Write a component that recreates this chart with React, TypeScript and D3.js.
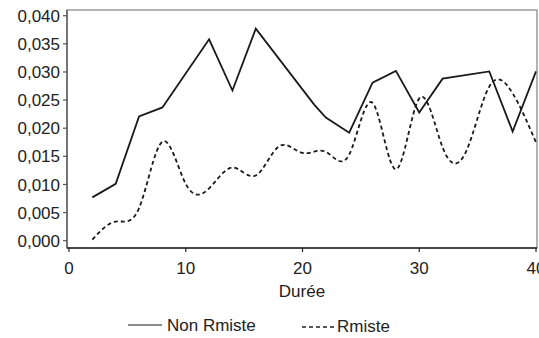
import React from "react";
import { scaleLinear, line, curveNatural, curveLinear } from "d3";

// Non Rmiste (solid)
const dureeNon = [2, 4, 6, 8, 12, 14, 16, 21, 22, 24, 26, 28, 30, 32, 36, 38, 40];
const nonRmiste = [0.0077, 0.0101, 0.0221, 0.0237, 0.0358, 0.0267, 0.0377, 0.0242, 0.0219, 0.0192, 0.0281, 0.0302, 0.0228, 0.0288, 0.0301, 0.0194, 0.0301];

// Rmiste (dashed, smoothed)
const dureeR = [2, 4, 6, 8, 10, 12, 14, 16, 18, 20, 22, 24, 26, 28, 30, 32, 34, 36, 38, 40];
const rmiste = [0.0002, 0.0034, 0.0058, 0.0176, 0.0101, 0.0093, 0.013, 0.0116, 0.0168, 0.0156, 0.0158, 0.0153, 0.0245, 0.0127, 0.0253, 0.0166, 0.0158, 0.0274, 0.0262, 0.0175];

const xTicks = [0, 10, 20, 30, 40];
const yTicks = [0, 0.005, 0.01, 0.015, 0.02, 0.025, 0.03, 0.035, 0.04];

const W = 539;
const H = 338;
const left = 67;
const top = 10;
const right = 537;
const bottom = 248;
const font = "'Liberation Sans', Arial, sans-serif";
const ink = "#222";

export default function App() {
  const x = scaleLinear().domain([0, 40]).range([69, 536]);
  const y = scaleLinear().domain([0, 0.04]).range([240.7, 15.7]);

  const solid = line<number>()
    .x((d, i) => x(dureeNon[i]))
    .y((d) => y(d))
    .curve(curveLinear);

  const dashed = line<number>()
    .x((d, i) => x(dureeR[i]))
    .y((d) => y(d))
    .curve(curveNatural);

  const fmt = (v: number) => v.toFixed(3).replace(".", ",");

  return (
    <svg width={W} height={H} style={{ position: "absolute", left: 0, top: 0, background: "#fff" }}>
      {/* frame */}
      <rect x={left} y={top} width={right - left} height={bottom - top} fill="none" stroke="#8a8a8a" strokeWidth={1.3} />
      <line x1={left} x2={left} y1={top} y2={bottom} stroke="#555" strokeWidth={1.3} />
      <line x1={left} x2={right} y1={bottom} y2={bottom} stroke="#222" strokeWidth={1.5} />

      {/* y axis */}
      {yTicks.map((t) => (
        <g key={t}>
          <line x1={63} x2={left} y1={y(t)} y2={y(t)} stroke="#555" strokeWidth={1.2} />
          <text x={60} y={y(t)} dy="0.36em" textAnchor="end" fontFamily={font} fontSize={17} fill={ink}>
            {fmt(t)}
          </text>
        </g>
      ))}

      {/* x axis */}
      {xTicks.map((t) => (
        <g key={t}>
          <line x1={x(t)} x2={x(t)} y1={bottom} y2={bottom + 4} stroke="#222" strokeWidth={1.2} />
          <text x={x(t)} y={274} textAnchor="middle" fontFamily={font} fontSize={17} fill={ink}>
            {t}
          </text>
        </g>
      ))}
      <text x={302} y={297} textAnchor="middle" fontFamily={font} fontSize={17} fill={ink}>
        Durée
      </text>

      {/* series */}
      <path d={solid(nonRmiste) || ""} fill="none" stroke="#1a1a1a" strokeWidth={1.8} strokeLinejoin="miter" />
      <path d={dashed(rmiste) || ""} fill="none" stroke="#1a1a1a" strokeWidth={1.8} strokeDasharray="4,3" />

      {/* legend */}
      <line x1={128} x2={162} y1={325} y2={325} stroke="#666" strokeWidth={1.3} />
      <text x={167} y={331} fontFamily={font} fontSize={17} fill={ink}>
        Non Rmiste
      </text>
      <line x1={302} x2={335} y1={327} y2={327} stroke="#222" strokeWidth={1.3} strokeDasharray="4,3" />
      <text x={337} y={332} fontFamily={font} fontSize={17} fill={ink}>
        Rmiste
      </text>
    </svg>
  );
}
